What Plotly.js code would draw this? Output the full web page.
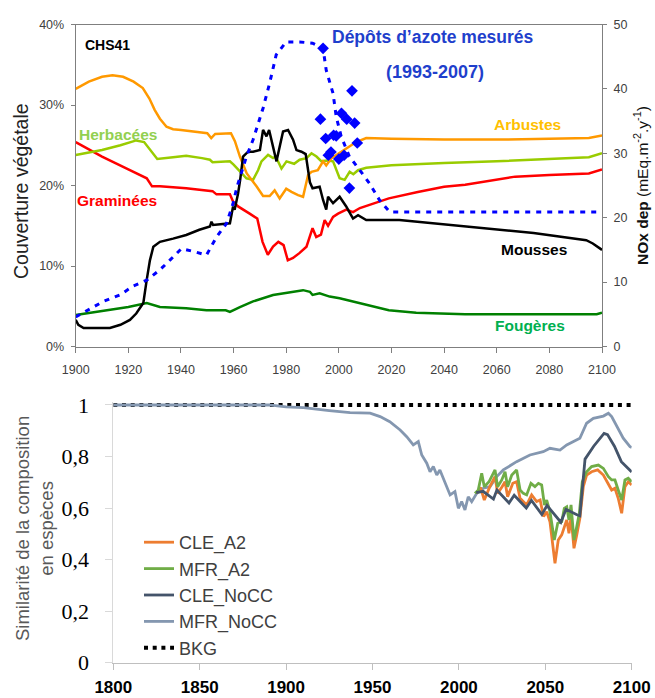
<!DOCTYPE html>
<html><head><meta charset="utf-8">
<script src="https://cdn.plot.ly/plotly-3.0.1.min.js"></script>
<style>html,body{margin:0;padding:0;background:#fff}#chart{width:655px;height:698px}</style>
</head><body><div id="chart"></div>
<script>
// ---------- TOP CHART DATA (CHS41) ----------
const arbYears = [1900,1905,1910,1914,1918,1922,1925.5,1928,1930,1932,1934.5,1937,1940,1945,1950,1951.5,1953,1959,1960.5,1962.4,1965,1968.7,1971.2,1973.7,1975.6,1977.5,1980,1982,1984.5,1986.4,1988.3,1989.6,1992,1994,1995.2,1997.2,1999,2002.8,2006.6,2010.4,2020,2040,2060,2080,2095,2100];
const arbValues = [32.0,32.9,33.5,33.7,33.5,32.9,32.1,30.8,29.4,28.3,27.3,27.0,26.9,26.7,26.5,25.9,26.4,26.5,25.5,23.6,21.5,19.9,18.7,18.7,19.4,18.4,19.6,19.2,18.8,18.6,21.3,21.7,21.9,23.0,22.5,23.4,23.8,24.6,25.4,25.9,25.8,25.7,25.7,25.8,25.9,26.2];

const herbYears = [1900,1905,1910,1917,1923,1926,1929,1931,1937,1942,1948,1951,1952,1958.6,1960,1962.4,1964.9,1967.4,1969.3,1970.6,1973.1,1975,1976,1978.2,1980.1,1983,1985.1,1987.7,1989.6,1991.5,1993.4,1995.5,1997.8,2000.3,2002.2,2004.1,2005.5,2007.3,2010.4,2020,2040,2060,2080,2095,2100];
const herbValues = [23.8,24.1,24.4,25.0,25.6,25.4,24.2,23.3,23.5,23.7,23.4,23.2,22.9,23.0,22.6,21.7,20.9,20.7,21.9,23.0,23.8,23.4,23.6,22.1,23.0,22.7,23.2,23.4,24.0,23.6,23.0,23.1,23.0,20.9,20.7,21.7,21.4,21.9,22.2,22.5,22.8,23.0,23.3,23.5,24.0];

const gramYears = [1900,1910,1920,1927,1929,1932,1942,1952,1953.5,1958.6,1959.8,1961.7,1966.1,1969,1971,1973,1975,1977,1979,1980.6,1982.6,1985,1987.7,1990,1991.4,1993.2,1994.6,1995.9,1997.8,1999.7,2002.8,2005.4,2008,2019,2030,2040,2048,2060,2067,2080,2095,2100];
const gramValues = [25.4,23.6,22.0,20.9,19.9,19.9,19.65,19.3,18.9,18.9,18.0,17.4,16.5,15.9,13.0,11.4,12.4,13.0,12.6,10.7,11.0,11.6,12.4,14.7,13.6,13.9,15.7,15.0,16.1,16.5,17.0,16.7,17.2,18.4,19.2,19.85,20.1,20.7,21.1,21.3,21.5,22.0];

const mousYears = [1900,1901,1903,1913,1917,1920.6,1923,1925.7,1927,1928.2,1929.5,1932,1937,1942,1947,1951,1951.6,1952.2,1958.6,1959.8,1960.4,1961.7,1962.5,1963.6,1965.5,1967.4,1970,1971.2,1972.5,1973.5,1975,1976.3,1977.5,1978.8,1980.7,1982.6,1983.9,1985.8,1987.4,1988.3,1989,1990,1992.7,1994,1995.2,1995.9,1997.8,2000.3,2002.8,2004.7,2005.4,2007.3,2010.4,2023,2048,2074,2094,2096.5,2100];
const mousValues = [3.3,2.7,2.3,2.3,2.7,3.3,4.1,5.4,8.3,10.7,12.4,13.0,13.4,13.85,14.5,14.9,15.5,15.1,15.3,17.4,17.0,19.0,20.7,23.6,24.2,24.2,24.4,26.9,26.1,26.9,24.8,23.0,24.8,26.7,26.9,25.7,24.4,24.2,23.9,21.5,20.4,19.65,19.85,18.2,17.0,18.6,17.8,18.6,17.4,16.3,15.9,16.3,15.7,15.7,14.9,14.1,13.2,12.8,12.0];

const fougYears = [1900,1910,1920,1927,1932,1942,1949.7,1957,1958.6,1962.4,1967.4,1975,1982.6,1986.4,1989,1990,1992.7,1996.5,2000.3,2010.4,2019,2029.4,2048,2098,2100];
const fougValues = [3.9,4.4,4.9,5.4,4.9,4.75,4.5,4.5,4.3,4.9,5.6,6.4,6.8,7.0,6.8,6.4,6.6,6.2,6.0,5.2,4.5,4.2,4.0,4.0,4.2];

// NOx deposition (right axis)
const noxYears = [1900,1905.4,1910.5,1916.8,1921.9,1927,1932,1935.8,1940.2,1945.3,1949.7,1953.5,1957.3,1959.8,1961.3,1964.9,1967.4,1971.2,1973.7,1976.2,1980,1985,1990,1994,1995.2,1997.8,1999,2000.9,2004,2007.9,2011.7,2015.5,2019.3,2100];
const noxValues = [4.6,5.9,7.0,8.0,9.4,10.3,11.9,13.4,15.2,14.7,14.2,17.0,19.1,22.2,24.8,29.5,32.1,37.0,40.9,45.3,47.3,47.3,47.1,46.3,42.9,39.3,35.7,32.6,29.5,27.4,25.3,22.7,20.9,20.9];

const measYears = [1993,1994,1995,1996,1997,1998,1999,2000,2001,2002,2003,2004,2005,2006,2007];
const measValues = [35.3,46.3,32.3,29.7,30.2,32.8,32.7,29.1,36.2,29.7,35.3,24.6,39.7,34.7,31.6];

// ---------- BOTTOM CHART DATA ----------
const mfrNoccYears = [1800,1890,1900,1910,1925,1937,1948.6,1954.4,1960,1966,1969.8,1973.6,1976.5,1978.5,1981.4,1983.3,1985.2,1987.2,1989,1992,1994.9,1997.7,1999.7,2001.6,2003.5,2005.4,2007.4,2010.3,2014.1,2018,2021.9,2025.7,2033.4,2041.1,2048.8,2052.7,2058.5,2062.4,2068.2,2070,2073.9,2077.8,2083.6,2086.5,2088.4,2091.3,2095.1,2099,2100];
const mfrNoccValues = [1.0,1.0,0.993,0.99,0.978,0.970,0.968,0.955,0.935,0.903,0.877,0.845,0.858,0.806,0.774,0.741,0.761,0.728,0.748,0.696,0.651,0.664,0.599,0.625,0.593,0.644,0.625,0.657,0.677,0.683,0.722,0.748,0.780,0.806,0.819,0.832,0.825,0.845,0.864,0.871,0.929,0.948,0.957,0.968,0.955,0.916,0.871,0.838,0.835];

const cleNoccYears = [2010,2014,2020,2022,2029,2032,2039,2042,2048,2051,2059,2062,2068,2070,2073,2078,2084,2086,2090,2094,2100];
const cleNoccValues = [0.66,0.665,0.635,0.67,0.62,0.65,0.60,0.63,0.575,0.61,0.545,0.595,0.575,0.57,0.79,0.84,0.89,0.885,0.84,0.78,0.74];

const mfrA2Years = [2009.3,2011.2,2013.2,2014.7,2017.4,2020.9,2022.4,2024.8,2026.7,2028.2,2030.6,2033.4,2035.4,2037.3,2039.2,2041.7,2044,2046,2047.9,2049.5,2050.8,2052.7,2055.2,2057.2,2059.5,2061,2062.4,2063.7,2064.9,2066.6,2068.2,2069.7,2071.4,2073.9,2076.8,2080.7,2083.6,2086.5,2088.4,2090.3,2092.2,2094.2,2096.1,2098,2100];
const mfrA2Values = [0.657,0.670,0.735,0.683,0.702,0.748,0.683,0.709,0.741,0.683,0.728,0.748,0.670,0.657,0.651,0.696,0.683,0.696,0.690,0.612,0.631,0.586,0.476,0.541,0.547,0.599,0.605,0.554,0.612,0.476,0.528,0.580,0.702,0.741,0.761,0.767,0.754,0.722,0.709,0.709,0.670,0.631,0.709,0.716,0.702];

const cleA2Years = [2010,2012.5,2014.7,2017.9,2020.9,2022.4,2025,2026.7,2028.2,2031.2,2033.4,2035.4,2039.2,2042.1,2045,2047,2049,2050.8,2052.7,2055.6,2057.5,2059.5,2062.4,2063.7,2064.9,2066.6,2068.2,2070,2072,2073.9,2076.8,2080.3,2083.6,2086.5,2088.4,2090.3,2092.2,2094.2,2096.1,2098,2100];
const cleA2Values = [0.657,0.680,0.631,0.683,0.722,0.657,0.683,0.702,0.644,0.696,0.702,0.638,0.612,0.651,0.625,0.631,0.567,0.586,0.547,0.386,0.476,0.496,0.554,0.502,0.567,0.444,0.496,0.560,0.683,0.728,0.741,0.748,0.728,0.696,0.670,0.677,0.638,0.580,0.683,0.702,0.690];

const bkgYears = [1800,2100];
const bkgValues = [1,1];

const bottomYTicks = [0,0.2,0.4,0.6,0.8,1];
const bottomYLabels = ['0','0,2','0,4','0,6','0,8','1'];

// ---------- PLOT ----------
const F = 'Liberation Sans, Arial, sans-serif';
const W = 655, H = 698;
const px = v => v / W, py = v => 1 - v / H;

function topLine(x, y, color) {
  return {x, y, type: 'scatter', mode: 'lines', xaxis: 'x', yaxis: 'y', showlegend: false,
    line: {color, width: 2.5}, hoverinfo: 'skip'};
}
function botLine(name, x, y, color, rank) {
  return {x, y, name, type: 'scatter', mode: 'lines', xaxis: 'x2', yaxis: 'y3', legendrank: rank,
    line: {color, width: 2.8}};
}

const traces = [
  topLine(fougYears, fougValues, '#008000'),
  topLine(gramYears, gramValues, '#ff0000'),
  topLine(herbYears, herbValues, '#99cc00'),
  topLine(arbYears, arbValues, '#ff9900'),
  topLine(mousYears, mousValues, '#000000'),
  {x: noxYears, y: noxValues, type: 'scatter', mode: 'lines', xaxis: 'x', yaxis: 'y2', showlegend: false,
   line: {color: '#0000ff', width: 3, dash: '5px,6px'}},
  {x: measYears, y: measValues, type: 'scatter', mode: 'markers', xaxis: 'x', yaxis: 'y2', showlegend: false,
   marker: {symbol: 'diamond', size: 9, color: '#0000ff'}},
  Object.assign(botLine('BKG', bkgYears, bkgValues, '#000000', 5), {line: {color: '#000000', width: 4, dash: '4px,4.7px'}}),
  botLine('MFR_NoCC', mfrNoccYears, mfrNoccValues, '#8497b0', 4),
  botLine('CLE_A2', cleA2Years, cleA2Values, '#ed7d31', 1),
  botLine('MFR_A2', mfrA2Years, mfrA2Values, '#70ad47', 2),
  botLine('CLE_NoCC', cleNoccYears, cleNoccValues, '#44546a', 3)
];

const topAxisFont = {family: F, size: 12.5, color: '#404040'};
function ann(text, x, y, size, color, extra) {
  return Object.assign({text, x, y, xref: 'paper', yref: 'paper', xanchor: 'center', yanchor: 'middle',
    showarrow: false, font: {family: F, size, color}}, extra || {});
}
const layout = {
  width: W, height: H,
  margin: {l: 0, r: 0, t: 0, b: 0},
  paper_bgcolor: '#ffffff', plot_bgcolor: 'rgba(0,0,0,0)',
  font: {family: F},
  showlegend: true,
  legend: {x: px(139), y: py(524), xanchor: 'left', yanchor: 'top', bgcolor: 'rgba(0,0,0,0)',
    font: {family: F, size: 18, color: '#404040'}, tracegroupgap: 0},
  xaxis: {domain: [px(75.7), px(602)], anchor: 'y', range: [1900, 2100], dtick: 20, tick0: 1900,
    showgrid: false, zeroline: false, showline: true, linecolor: '#7f7f7f', linewidth: 1, mirror: true,
    ticks: 'outside', ticklen: 5, tickcolor: '#7f7f7f', tickfont: topAxisFont, ticklabelstandoff: 6},
  yaxis: {domain: [py(346.5), py(24.5)], anchor: 'x', range: [0, 40], dtick: 10, ticksuffix: '%',
    showgrid: false, zeroline: false, showline: true, linecolor: '#7f7f7f', linewidth: 1,
    ticks: 'outside', ticklen: 4, tickcolor: '#7f7f7f', tickfont: topAxisFont, ticklabelstandoff: 4},
  yaxis2: {overlaying: 'y', side: 'right', anchor: 'x', range: [0, 50], dtick: 10,
    showgrid: false, zeroline: false, showline: true, linecolor: '#7f7f7f', linewidth: 1,
    ticks: 'outside', ticklen: 4, tickcolor: '#7f7f7f', tickfont: topAxisFont, ticklabelstandoff: 4},
  xaxis2: {domain: [px(113.3), px(631.7)], anchor: 'y3', range: [1800, 2100], dtick: 50, tick0: 1800,
    showgrid: false, zeroline: false, showline: true, linecolor: '#bfbfbf', linewidth: 1,
    ticks: 'outside', ticklen: 6, tickcolor: '#bfbfbf',
    tickfont: {family: F, size: 17, color: '#000000', weight: 'bold'}, ticklabelstandoff: 3},
  yaxis3: {domain: [py(662.7), py(402.4)], anchor: 'x2', range: [0, 1.01],
    tickvals: bottomYTicks, ticktext: bottomYLabels,
    showgrid: false, zeroline: false, showline: true, linecolor: '#d9d9d9', linewidth: 1,
    ticks: 'outside', ticklen: 7, tickcolor: '#d9d9d9',
    tickfont: {family: 'Liberation Serif, Times New Roman, serif', size: 22, color: '#000000'}, ticklabelstandoff: 12},
  annotations: [
    ann('Couverture végétale', px(21), py(191), 19.5, '#222222', {textangle: -90}),
    ann('<b>NOx dep</b> (mEq.m<sup>-2</sup>.y<sup>-1</sup>)', px(641), py(186), 15.5, '#111111', {textangle: -90}),
    ann('Similarité de la composition<br>en espèces', px(34), py(529), 18.5, '#595959', {textangle: -90}),
    ann('<b>CHS41</b>', px(83), py(45), 14, '#000000', {xanchor: 'left'}),
    ann('<b>Dépôts d’azote mesurés</b>', px(433), py(37), 17.5, '#1f3fcc'),
    ann('<b>(1993-2007)</b>', px(435), py(72), 18, '#1f3fcc'),
    ann('<b>Herbacées</b>', px(77), py(134), 15.5, '#92d050', {xanchor: 'left'}),
    ann('<b>Arbustes</b>', px(492), py(125), 15.5, '#ffc000', {xanchor: 'left'}),
    ann('<b>Graminées</b>', px(75), py(200), 15.5, '#ff0000', {xanchor: 'left'}),
    ann('<b>Mousses</b>', px(499), py(250), 15.5, '#000000', {xanchor: 'left'}),
    ann('<b>Fougères</b>', px(493), py(325), 15.5, '#00b050', {xanchor: 'left'})
  ]
};

Plotly.newPlot('chart', traces, layout, {staticPlot: true, displayModeBar: false});
</script></body></html>
